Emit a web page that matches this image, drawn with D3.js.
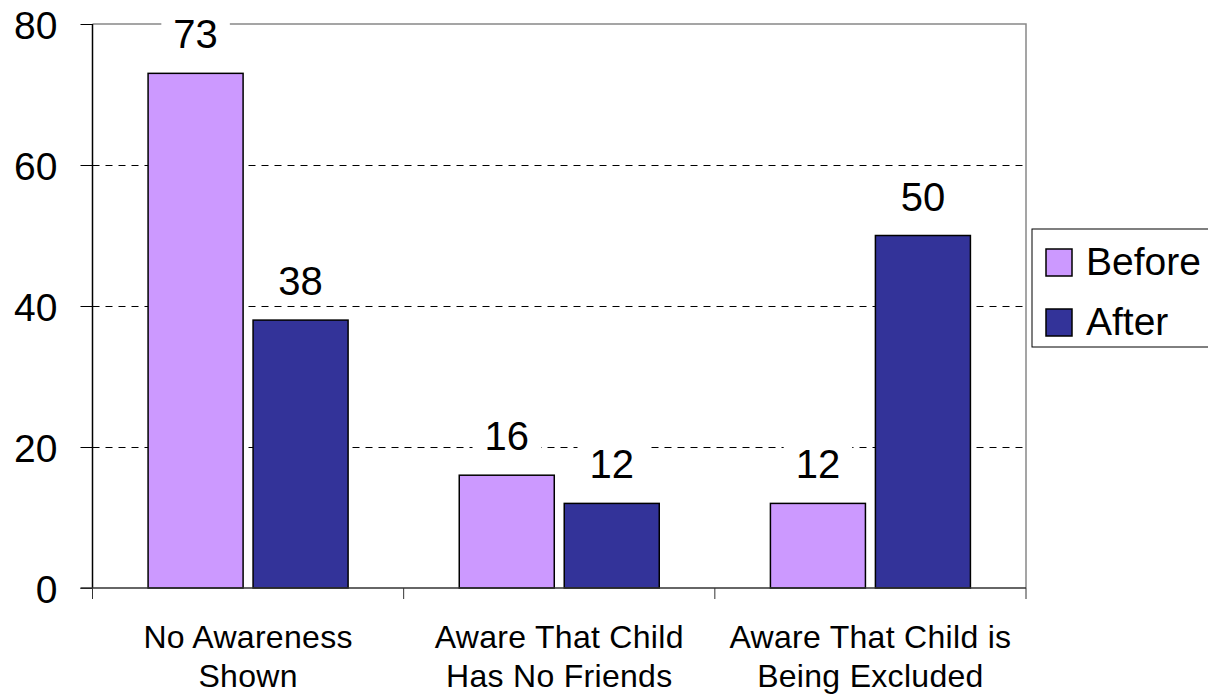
<!DOCTYPE html>
<html>
<head>
<meta charset="utf-8">
<script src="https://cdn.jsdelivr.net/npm/d3@7"></script>
<style>
  body { margin: 0; background: #fff; }
  svg { display: block; font-family: "Liberation Sans", Arial, sans-serif; }
</style>
</head>
<body>
<svg></svg>
<script>
// chart data
var categories = [["No Awareness", "Shown"], ["Aware That Child", "Has No Friends"], ["Aware That Child is", "Being Excluded"]];
var seriesNames = ["Before", "After"];
var beforeValues = [73, 16, 12];
var afterValues = [38, 12, 50];
var yTicks = [0, 20, 40, 60, 80];
var seriesColors = ["#cc99ff", "#333399"];

var svgWidth = 1208;
var svgHeight = 698;
var plotLeft = 92.5, plotRight = 1026, plotTop = 24, plotBottom = 588;
var svg = d3.select("svg").attr("width", svgWidth).attr("height", svgHeight);

var catKeys = categories.map(function (c, i) { return i; });
var data = catKeys.map(function (i) {
    return [beforeValues[i], afterValues[i]];
});

var xScale = d3.scaleBand().domain(catKeys).range([plotLeft, plotRight]);
var groupWidth = 200;
var subScale = d3.scaleBand().domain(seriesNames).range([0, groupWidth]).paddingInner(0.095);
var yScale = d3.scaleLinear().domain([0, 80]).range([plotBottom, plotTop]);

var createGrid = function () {
    // dashed gridlines (half pixel offset keeps them sharp)
    svg.append("g").selectAll("line")
        .data(yTicks.filter(function (t) { return t > 0 && t < 80; }))
        .enter().append("line")
        .attr("x1", plotLeft).attr("x2", plotRight)
        .attr("y1", function (d) { return Math.round(yScale(d)) + 0.5; })
        .attr("y2", function (d) { return Math.round(yScale(d)) + 0.5; })
        .attr("stroke", "#000").attr("stroke-width", 1)
        .attr("stroke-dasharray", "7,6");
    // top and right frame
    svg.append("path")
        .attr("d", "M" + plotLeft + "," + yScale(80) + "H" + plotRight + "V" + plotBottom)
        .attr("fill", "none").attr("stroke", "#888").attr("stroke-width", 1.5);
};

var createBars = function () {
    var groups = svg.append("g").selectAll("g")
        .data(data)
        .enter().append("g")
        .attr("transform", function (d, i) {
            return "translate(" + (xScale(i) + (xScale.bandwidth() - groupWidth) / 2) + ",0)";
        });
    groups.selectAll("rect")
        .data(function (d) { return d; })
        .enter().append("rect")
        .attr("x", function (d, j) { return subScale(seriesNames[j]); })
        .attr("width", subScale.bandwidth())
        .attr("y", function (d) { return yScale(d); })
        .attr("height", function (d) { return yScale(0) - yScale(d); })
        .attr("fill", function (d, j) { return seriesColors[j]; })
        .attr("stroke", "#000").attr("stroke-width", 1.5);

    // value labels with white boxes behind them
    var labels = groups.selectAll("g.lbl")
        .data(function (d) { return d; })
        .enter().append("g").attr("class", "lbl");
    var texts = labels.append("text")
        .attr("x", function (d, j) { return subScale(seriesNames[j]) + subScale.bandwidth() / 2; })
        .attr("y", function (d) { return yScale(d) - 25; })
        .attr("text-anchor", "middle")
        .attr("font-size", 40)
        .attr("fill", "#000")
        .text(function (d) { return d; });
    texts.each(function () {
        var b = this.getBBox();
        d3.select(this.parentNode).insert("rect", "text")
            .attr("x", b.x - 12).attr("width", b.width + 24)
            .attr("y", b.y + 2).attr("height", b.height - 2)
            .attr("fill", "#fff");
    });
};

var createAxes = function () {
    var yAxis = d3.axisLeft(yScale).tickValues(yTicks).tickSize(12).tickPadding(23);
    var gy = svg.append("g")
        .attr("transform", "translate(" + plotLeft + ",0)")
        .call(yAxis);
    gy.select(".domain").remove();
    gy.selectAll(".tick line").attr("stroke", "#000").attr("stroke-width", 1);
    gy.selectAll(".tick text")
        .attr("font-size", 39).attr("fill", "#000")
        .attr("font-family", "Liberation Sans, Arial, sans-serif")
        .attr("dy", "0.36em");
    gy.append("line")
        .attr("x1", 0).attr("x2", 0)
        .attr("y1", plotTop).attr("y2", plotBottom)
        .attr("stroke", "#000").attr("stroke-width", 1.5);

    // x axis: ticks at category boundaries
    var bounds = catKeys.map(function (i) { return xScale(i); }).concat([plotRight]);
    var gx = svg.append("g");
    gx.append("line")
        .attr("x1", plotLeft - 12).attr("x2", plotRight)
        .attr("y1", plotBottom).attr("y2", plotBottom)
        .attr("stroke", "#333").attr("stroke-width", 1.5);
    gx.selectAll("line.tk")
        .data(bounds)
        .enter().append("line").attr("class", "tk")
        .attr("x1", function (d) { return d; }).attr("x2", function (d) { return d; })
        .attr("y1", plotBottom).attr("y2", plotBottom + 11)
        .attr("stroke", "#333").attr("stroke-width", 1);
    var catText = gx.selectAll("text")
        .data(categories)
        .enter().append("text")
        .attr("x", function (d, i) { return xScale(i) + xScale.bandwidth() / 2; })
        .attr("y", 648)
        .attr("text-anchor", "middle")
        .attr("font-size", 32)
        .attr("letter-spacing", 0.3)
        .attr("fill", "#000");
    catText.each(function (d) {
        var t = d3.select(this);
        d.forEach(function (line, k) {
            t.append("tspan")
                .attr("x", t.attr("x"))
                .attr("dy", k === 0 ? 0 : 39)
                .text(line);
        });
    });
};

var createLegend = function () {
    var lg = svg.append("g").attr("transform", "translate(1032,229)");
    lg.append("rect")
        .attr("width", 220).attr("height", 118)
        .attr("fill", "#fff").attr("stroke", "#000").attr("stroke-width", 1);
    var items = lg.selectAll("g")
        .data(seriesNames)
        .enter().append("g")
        .attr("transform", function (d, i) { return "translate(14," + (20 + i * 60) + ")"; });
    items.append("rect")
        .attr("width", 26).attr("height", 27)
        .attr("fill", function (d, i) { return seriesColors[i]; })
        .attr("stroke", "#000").attr("stroke-width", 1.5);
    items.append("text")
        .attr("x", 40).attr("y", 26)
        .attr("font-size", 39).attr("fill", "#000")
        .text(function (d) { return d; });
};

createGrid();
createBars();
createAxes();
createLegend();
</script>
</body>
</html>
